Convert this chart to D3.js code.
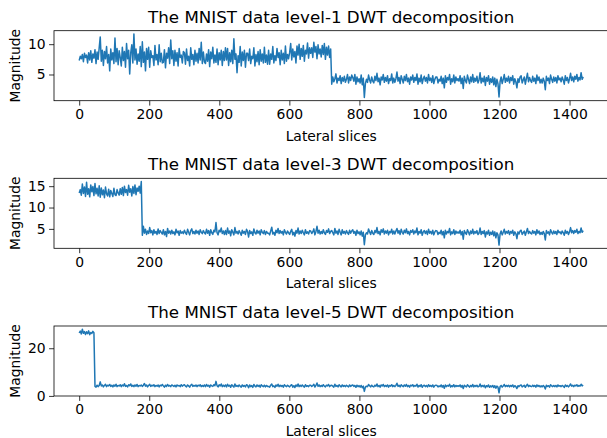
<!DOCTYPE html>
<html>
<head>
<meta charset="utf-8">
<script src="https://cdn.jsdelivr.net/npm/d3@7"></script>
<style>
  body { margin: 0; background: #fff; }
  text { font-family: "DejaVu Sans", sans-serif; fill: #000; }
</style>
</head>
<body>
<script>
// values, one sample every ~3 slices (0 .. 1439), 20 per row = 60 slices
var level1 = [
  7.3, 8.0, 7.6, 8.3, 7.1, 8.5, 7.8, 8.2, 6.9, 8.6, 7.4, 8.9, 7.0, 8.4, 7.7, 9.1, 6.8, 8.7, 7.5, 9.4,
  11.2, 7.2, 9.0, 6.5, 8.8, 7.6, 9.6, 6.9, 8.3, 5.6, 9.2, 7.4, 8.6, 6.8, 11.0, 7.1, 9.3, 6.6, 8.9, 7.8,
  6.4, 9.5, 7.3, 8.8, 6.2, 10.1, 7.6, 9.0, 5.1, 8.6, 9.9, 6.9, 11.7, 7.4, 9.2, 6.7, 8.4, 7.2, 9.6, 6.3,
  10.4, 7.0, 8.7, 5.6, 9.3, 7.5, 9.5, 6.2, 8.9, 7.8, 8.1, 6.5, 9.8, 7.4, 8.3, 6.6, 9.9, 7.1, 8.5, 6.9,
  7.0, 9.1, 6.1, 8.5, 7.7, 9.4, 6.8, 10.7, 7.6, 8.9, 6.5, 9.0, 7.2, 8.6, 6.4, 9.3, 7.8, 8.2, 6.9, 8.8,
  8.6, 6.7, 9.2, 7.3, 8.0, 6.4, 9.4, 7.5, 8.3, 6.6, 9.0, 7.2, 8.5, 6.9, 9.3, 7.4, 10.3, 6.8, 8.7, 7.1,
  6.8, 8.4, 7.2, 9.1, 6.3, 8.7, 7.6, 9.5, 6.9, 8.2, 7.0, 9.2, 6.6, 8.6, 7.4, 9.0, 6.5, 8.8, 7.3, 9.4,
  7.4, 9.3, 6.5, 8.6, 7.1, 9.0, 6.8, 10.9, 7.5, 8.4, 5.3, 8.1, 7.0, 9.6, 6.4, 8.7, 7.3, 9.0, 6.2, 8.5,
  8.5, 7.3, 9.2, 6.8, 8.0, 7.6, 9.4, 6.4, 8.3, 7.1, 8.8, 6.6, 9.1, 7.2, 8.4, 6.9, 9.5, 7.0, 8.2, 6.7,
  9.0, 6.7, 8.4, 7.5, 9.6, 6.9, 8.1, 7.3, 9.3, 7.8, 8.6, 6.6, 9.0, 7.4, 8.5, 6.8, 9.7, 7.2, 8.3, 7.6,
  8.6, 10.1, 7.4, 9.2, 7.9, 8.8, 6.9, 9.7, 8.2, 10.0, 7.5, 9.3, 8.0, 9.8, 7.2, 9.0, 8.4, 10.2, 7.7, 9.4,
  8.5, 9.4, 7.8, 10.3, 8.7, 9.6, 7.6, 9.9, 8.4, 9.2, 7.9, 9.8, 8.3, 10.1, 7.5, 9.5, 8.2, 9.7, 7.8, 9.2,
  3.4, 4.6, 3.8, 4.3, 5.1, 3.6, 4.4, 4.0, 4.8, 3.5, 4.5, 3.9, 4.7, 3.7, 4.2, 5.0, 3.6, 4.6, 4.0, 4.9,
  4.5, 3.9, 5.0, 3.4, 4.6, 3.8, 4.3, 3.6, 4.9, 3.3, 4.4, 1.2, 3.5, 4.2, 3.7, 4.9, 4.1, 3.6, 4.6, 3.9,
  3.6, 4.7, 4.0, 5.2, 3.8, 4.4, 3.3, 4.6, 4.1, 5.0, 3.7, 4.5, 3.9, 4.8, 3.5, 4.3, 4.0, 5.1, 3.6, 4.4,
  3.7, 4.3, 5.4, 3.9, 4.5, 3.5, 4.8, 4.2, 3.6, 4.7, 4.0, 5.0, 3.8, 4.4, 3.4, 4.6, 4.1, 4.9, 3.7, 4.5,
  4.0, 5.1, 3.4, 4.4, 3.8, 4.9, 3.5, 4.3, 4.7, 3.9, 4.5, 3.6, 5.0, 4.0, 4.4, 3.7, 4.8, 3.5, 4.2, 4.6,
  4.6, 3.6, 4.2, 3.9, 4.7, 3.5, 4.4, 2.8, 4.8, 3.7, 4.5, 4.1, 5.0, 3.4, 4.3, 3.8, 4.9, 3.6, 4.6, 4.0,
  4.3, 3.9, 4.8, 3.5, 4.4, 2.7, 4.7, 4.0, 3.6, 4.9, 4.2, 3.5, 4.6, 3.8, 5.0, 3.7, 4.4, 3.9, 4.7, 3.6,
  4.1, 5.3, 3.6, 4.4, 3.8, 4.7, 3.2, 4.5, 3.9, 4.8, 3.4, 4.3, 3.7, 4.6, 3.3, 4.4, 3.0, 4.2, 3.5, 1.3,
  3.8, 4.6, 3.5, 4.2, 5.0, 3.7, 4.4, 3.9, 4.7, 3.6, 4.5, 4.0, 4.8, 3.4, 4.3, 3.8, 2.8, 4.3, 3.7, 4.6,
  4.8, 3.6, 4.1, 4.6, 3.4, 4.3, 5.2, 3.8, 4.5, 4.0, 3.7, 4.7, 3.9, 4.4, 3.5, 4.9, 4.0, 4.6, 3.6, 4.2,
  3.6, 4.4, 3.9, 2.5, 4.7, 4.0, 4.4, 3.5, 4.9, 4.2, 3.7, 4.6, 3.9, 4.5, 3.6, 4.8, 4.1, 4.4, 3.8, 4.6,
  4.1, 3.4, 4.8, 4.0, 4.5, 3.6, 4.3, 5.2, 4.0, 4.6, 3.8, 4.7, 4.2, 5.0, 3.9, 4.5, 4.1, 5.3, 4.2, 4.6
];

var level3 = [
  13.4, 14.2, 12.9, 15.5, 13.3, 14.8, 12.6, 15.9, 13.1, 14.4, 12.5, 15.3, 13.7, 14.9, 12.8, 15.6, 13.2, 14.5, 12.7, 15.1,
  12.4, 14.6, 13.0, 14.1, 12.3, 14.8, 13.2, 12.7, 14.3, 12.5, 14.0, 13.3, 12.6, 14.5, 13.0, 12.8, 14.2, 13.4, 12.9, 14.4,
  13.1, 14.7, 12.8, 15.0, 13.5, 14.2, 12.9, 15.2, 13.6, 14.4, 12.7, 14.9, 13.3, 15.3, 13.0, 14.6, 13.8, 15.0, 13.4, 16.1,
  3.5, 5.6, 4.0, 4.9, 3.7, 4.5, 3.9, 5.3, 4.1, 4.6, 3.6, 4.8, 4.0, 4.4, 3.7, 5.0, 3.9, 4.6, 4.2, 3.8,
  4.8, 3.6, 4.4, 3.2, 5.1, 4.0, 4.5, 3.8, 4.7, 3.9, 4.3, 3.6, 4.9, 4.1, 4.5, 3.5, 4.6, 4.0, 4.3, 3.9,
  4.7, 4.1, 3.7, 4.9, 4.2, 3.6, 4.6, 5.0, 3.9, 4.4, 3.8, 4.7, 4.0, 4.5, 3.7, 4.8, 4.2, 3.9, 4.6, 4.1,
  3.8, 4.9, 4.0, 4.6, 3.5, 4.8, 4.1, 3.7, 4.7, 4.3, 6.5, 4.1, 3.6, 4.7, 4.3, 5.2, 3.9, 4.5, 3.7, 4.6,
  3.7, 5.2, 4.0, 4.5, 3.4, 4.8, 4.2, 3.6, 5.3, 4.0, 4.4, 3.8, 4.6, 4.1, 3.5, 4.7, 4.0, 4.4, 3.7, 4.9,
  4.4, 3.1, 4.6, 3.9, 4.3, 3.5, 5.0, 4.1, 3.8, 4.7, 4.0, 4.5, 3.6, 4.8, 4.2, 3.9, 4.6, 3.7, 4.4, 4.0,
  4.0, 3.6, 4.5, 5.4, 3.8, 4.2, 3.5, 4.7, 4.1, 5.1, 3.9, 4.6, 4.0, 4.4, 3.6, 4.8, 4.2, 3.8, 4.5, 4.1,
  3.7, 4.4, 4.9, 3.6, 4.2, 3.3, 4.6, 4.0, 5.2, 3.8, 4.5, 3.9, 4.7, 4.1, 3.6, 4.8, 4.0, 4.3, 3.8, 4.6,
  4.5, 3.9, 4.3, 5.0, 3.6, 4.4, 5.6, 4.0, 4.7, 3.8, 4.4, 3.9, 4.8, 4.1, 3.7, 4.6, 4.2, 5.0, 3.9, 4.4,
  4.6, 4.1, 3.6, 5.1, 4.0, 4.5, 3.7, 4.9, 4.2, 3.6, 4.8, 4.0, 4.4, 3.8, 4.6, 4.1, 3.7, 4.7, 4.0, 4.5,
  4.8, 4.0, 4.4, 3.5, 4.7, 3.9, 4.3, 3.6, 4.5, 3.3, 4.2, 1.3, 3.6, 4.1, 3.8, 5.0, 4.3, 3.7, 4.6, 4.0,
  3.7, 4.6, 4.1, 5.3, 3.9, 4.4, 3.6, 4.8, 4.2, 5.0, 3.8, 4.5, 4.0, 4.7, 3.6, 4.4, 4.1, 4.9, 3.8, 4.5,
  3.8, 4.5, 5.1, 4.0, 4.6, 3.7, 4.9, 4.2, 3.8, 4.7, 4.1, 5.0, 3.9, 4.4, 3.6, 4.6, 4.2, 4.8, 3.8, 4.5,
  4.1, 5.2, 3.6, 4.4, 4.0, 4.8, 3.5, 4.3, 4.6, 3.9, 4.5, 3.7, 4.9, 4.0, 4.4, 3.8, 4.7, 3.6, 4.3, 4.6,
  4.5, 3.7, 4.2, 3.9, 4.7, 3.6, 4.4, 2.9, 4.7, 3.8, 4.4, 4.1, 5.1, 3.6, 4.3, 3.9, 4.8, 3.7, 4.5, 4.0,
  4.3, 4.0, 4.7, 3.6, 4.4, 2.6, 4.6, 4.1, 3.7, 4.8, 4.2, 3.6, 4.5, 3.9, 4.9, 3.8, 4.4, 4.0, 4.6, 3.7,
  4.0, 5.2, 3.7, 4.4, 3.9, 4.6, 3.1, 4.3, 3.8, 4.7, 3.5, 4.2, 3.7, 4.5, 3.4, 4.3, 2.9, 4.1, 3.6, 1.2,
  3.8, 4.5, 3.6, 4.2, 4.9, 3.8, 4.4, 4.0, 4.6, 3.7, 4.4, 4.0, 4.7, 3.5, 4.3, 3.9, 2.7, 4.3, 3.8, 4.5,
  4.7, 3.7, 4.1, 4.5, 3.5, 4.3, 5.1, 3.9, 4.4, 4.0, 3.8, 4.6, 4.0, 4.4, 3.6, 4.8, 4.0, 4.5, 3.7, 4.2,
  3.7, 4.4, 3.9, 2.4, 4.6, 4.0, 4.3, 3.6, 4.8, 4.2, 3.8, 4.5, 3.9, 4.4, 3.7, 4.7, 4.1, 4.3, 3.8, 4.5,
  4.1, 3.5, 4.7, 4.0, 4.4, 3.7, 4.3, 5.3, 4.1, 4.6, 3.9, 4.6, 4.2, 4.9, 3.9, 4.4, 4.1, 5.2, 4.2, 4.6
];

var level5 = [
  26.4, 27.2, 26.0, 28.0, 26.3, 27.0, 25.8, 26.9, 26.1, 27.3, 25.7, 26.6, 26.2, 27.1, 26.5, 4.0, 3.7, 4.5, 3.9, 4.4,
  5.9, 4.2, 4.6, 3.8, 4.4, 4.9, 3.9, 4.5, 4.2, 4.8, 4.0, 4.5, 3.8, 4.6, 4.1, 4.9, 3.9, 4.4, 4.2, 4.7,
  3.9, 4.6, 4.2, 5.1, 4.0, 4.4, 3.8, 4.7, 4.3, 5.0, 4.0, 4.5, 3.9, 4.6, 4.1, 4.8, 3.9, 4.4, 4.2, 4.6,
  4.0, 4.5, 5.2, 4.1, 4.6, 3.8, 4.4, 4.9, 4.0, 4.5, 4.2, 4.7, 3.9, 4.4, 4.1, 4.6, 3.8, 4.5, 4.2, 4.8,
  4.2, 3.7, 4.5, 4.0, 4.8, 4.1, 4.4, 3.9, 4.6, 4.3, 4.0, 4.5, 3.8, 4.6, 4.2, 4.4, 3.9, 4.7, 4.1, 4.5,
  4.7, 4.1, 3.8, 4.6, 4.2, 3.7, 4.5, 4.9, 4.0, 4.4, 4.1, 4.6, 3.9, 4.5, 4.2, 4.7, 3.9, 4.4, 4.0, 4.6,
  3.9, 4.8, 4.1, 4.5, 3.7, 4.6, 4.2, 4.0, 4.7, 4.3, 6.1, 4.3, 3.8, 4.7, 4.2, 5.0, 3.9, 4.5, 4.0, 4.6,
  3.8, 4.9, 4.1, 4.5, 3.6, 4.7, 4.2, 3.7, 5.0, 4.0, 4.4, 3.9, 4.6, 4.1, 3.7, 4.6, 4.0, 4.4, 3.8, 4.7,
  4.4, 3.4, 4.6, 3.9, 4.3, 3.6, 4.8, 4.1, 3.8, 4.6, 4.0, 4.5, 3.7, 4.7, 4.2, 3.9, 4.5, 3.8, 4.4, 4.0,
  4.0, 3.7, 4.5, 5.0, 3.9, 4.2, 3.6, 4.6, 4.1, 4.9, 3.9, 4.5, 4.0, 4.4, 3.7, 4.7, 4.2, 3.9, 4.5, 4.1,
  3.8, 4.4, 4.7, 3.7, 4.3, 3.5, 4.6, 4.0, 5.0, 3.9, 4.5, 4.0, 4.6, 4.1, 3.7, 4.7, 4.0, 4.3, 3.9, 4.5,
  4.5, 4.0, 4.3, 4.9, 3.7, 4.4, 5.4, 4.0, 4.6, 3.9, 4.4, 4.0, 4.7, 4.1, 3.8, 4.5, 4.2, 4.8, 3.9, 4.4,
  4.5, 4.1, 3.7, 4.9, 4.0, 4.4, 3.8, 4.7, 4.2, 3.8, 4.6, 4.0, 4.4, 3.9, 4.5, 4.1, 3.8, 4.6, 4.0, 4.4,
  4.6, 4.0, 4.4, 3.6, 4.5, 3.9, 4.3, 3.7, 4.4, 3.4, 4.1, 1.9, 3.7, 4.1, 3.9, 4.8, 4.3, 3.8, 4.5, 4.0,
  3.8, 4.5, 4.1, 5.0, 3.9, 4.4, 3.7, 4.6, 4.2, 4.8, 3.9, 4.4, 4.0, 4.6, 3.7, 4.4, 4.1, 4.7, 3.9, 4.4,
  3.9, 4.4, 5.3, 4.0, 4.5, 3.8, 4.7, 4.2, 3.9, 4.6, 4.1, 4.8, 3.9, 4.4, 3.7, 4.5, 4.2, 4.7, 3.9, 4.4,
  4.1, 4.9, 3.7, 4.4, 4.0, 4.7, 3.6, 4.3, 4.5, 3.9, 4.4, 3.8, 4.7, 4.0, 4.4, 3.9, 4.6, 3.7, 4.3, 4.5,
  4.4, 3.8, 4.2, 3.9, 4.6, 3.7, 4.4, 3.2, 4.6, 3.9, 4.4, 4.1, 4.9, 3.7, 4.3, 3.9, 4.7, 3.8, 4.4, 4.0,
  4.3, 4.0, 4.6, 3.7, 4.4, 3.1, 4.5, 4.1, 3.8, 4.7, 4.2, 3.7, 4.4, 3.9, 4.8, 3.8, 4.4, 4.0, 4.5, 3.8,
  4.0, 5.0, 3.8, 4.4, 3.9, 4.5, 3.4, 4.3, 3.9, 4.6, 3.6, 4.2, 3.8, 4.4, 3.5, 4.3, 3.2, 4.1, 3.7, 1.3,
  3.9, 4.4, 3.7, 4.2, 4.8, 3.9, 4.4, 4.0, 4.5, 3.8, 4.4, 4.0, 4.6, 3.7, 4.3, 3.9, 3.1, 4.3, 3.9, 4.4,
  4.6, 3.8, 4.1, 4.5, 3.6, 4.3, 4.9, 3.9, 4.4, 4.0, 3.9, 4.5, 4.0, 4.4, 3.7, 4.6, 4.0, 4.4, 3.8, 4.2,
  3.8, 4.4, 3.9, 2.9, 4.5, 4.0, 4.3, 3.7, 4.7, 4.2, 3.9, 4.4, 3.9, 4.4, 3.8, 4.6, 4.1, 4.3, 3.9, 4.4,
  4.1, 3.6, 4.6, 4.0, 4.4, 3.8, 4.3, 5.0, 4.1, 4.5, 3.9, 4.5, 4.2, 4.7, 4.0, 4.4, 4.1, 4.9, 4.2, 4.5
];

var lastSlice = 1439;
var xTicks = [0, 200, 400, 600, 800, 1000, 1200, 1400];
var yTicks1 = [5, 10];
var yTicks3 = [5, 10, 15];
var yTicks5 = [0, 20];
var titles = [
  "The MNIST data level-1 DWT decomposition",
  "The MNIST data level-3 DWT decomposition",
  "The MNIST data level-5 DWT decomposition"
];

var W = 607, H = 438;
var left = 54, right = 608.4;
var tops = [30.7, 178.3, 326];
var panelH = 70;

var svg = d3.select("body")
    .append("svg")
    .attr("width", W)
    .attr("height", H);

svg.append("rect")
    .attr("width", W)
    .attr("height", H)
    .attr("fill", "#fff");

// matplotlib style 5% margins
var x = d3.scaleLinear()
    .domain([-0.05 * lastSlice, lastSlice * 1.05])
    .range([left, right]);

function drawPanel(values, top, yTicks, title){
    var n = values.length;
    var pts = values.map(function(v, i){
        return {s: i * lastSlice / (n - 1), v: v};
    });
    var ext = d3.extent(values);
    var pad = (ext[1] - ext[0]) * 0.05;
    var y = d3.scaleLinear()
        .domain([ext[0] - pad, ext[1] + pad])
        .range([top + panelH, top]);

    var g = svg.append("g");

    g.append("path")
        .datum(pts)
        .attr("fill", "none")
        .attr("stroke", "#1f77b4")
        .attr("stroke-width", 1.5)
        .attr("stroke-linejoin", "round")
        .attr("d", d3.line()
            .x(function(d){ return x(d.s); })
            .y(function(d){ return y(d.v); }));

    // x axis
    var xa = g.append("g")
        .attr("transform", "translate(0," + (top + panelH) + ")")
        .call(d3.axisBottom(x).tickValues(xTicks).tickSize(4.9).tickPadding(3.5).tickFormat(d3.format("d")));
    // y axis
    var ya = g.append("g")
        .attr("transform", "translate(" + left + ",0)")
        .call(d3.axisLeft(y).tickValues(yTicks).tickSize(4.9).tickPadding(3.5).tickFormat(d3.format("d")));

    [xa, ya].forEach(function(a){
        a.select(".domain").remove();
        a.selectAll("line").attr("stroke", "#000").attr("stroke-width", 0.8);
        a.selectAll("text")
            .attr("font-size", "13.9px")
            .attr("font-family", "DejaVu Sans, sans-serif")
            .attr("fill", "#000");
    });

    // frame
    g.append("rect")
        .attr("x", left)
        .attr("y", top)
        .attr("width", right - left)
        .attr("height", panelH)
        .attr("fill", "none")
        .attr("stroke", "#000")
        .attr("stroke-width", 0.8);

    g.append("text")
        .attr("x", (left + right) / 2)
        .attr("y", top - 8)
        .attr("text-anchor", "middle")
        .attr("font-size", "16.7px")
        .text(title);

    g.append("text")
        .attr("x", (left + right) / 2)
        .attr("y", top + panelH + 40)
        .attr("text-anchor", "middle")
        .attr("font-size", "13.9px")
        .text("Lateral slices");

    g.append("text")
        .attr("transform", "translate(20," + (top + panelH / 2) + ") rotate(-90)")
        .attr("text-anchor", "middle")
        .attr("font-size", "13.9px")
        .text("Magnitude");
}

drawPanel(level1, tops[0], yTicks1, titles[0]);
drawPanel(level3, tops[1], yTicks3, titles[1]);
drawPanel(level5, tops[2], yTicks5, titles[2]);
</script>
</body>
</html>
